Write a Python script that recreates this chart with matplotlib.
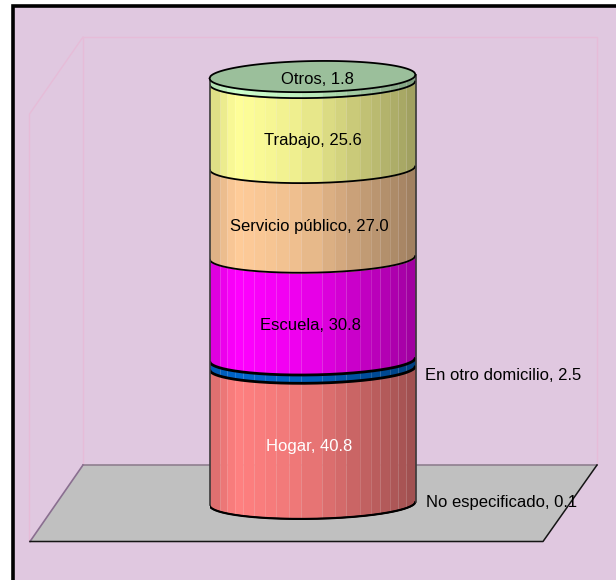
import matplotlib
matplotlib.use('Agg')
import matplotlib.pyplot as plt
import numpy as np
from matplotlib.patches import Polygon, Rectangle

# de abajo hacia arriba
labels = ['No especificado', 'Hogar', 'En otro domicilio', 'Escuela', 'Servicio público', 'Trabajo', 'Otros']
values = [0.1, 40.8, 2.5, 30.8, 27.0, 25.6, 1.8]
colors = ['#FFFFFF', '#FF8080', '#0066CC', '#FF00FF', '#FFCC99', '#FFFF99', '#CCFFCC']
text_colors = ['black', 'white', 'black', 'black', 'black', 'black', 'black']
# posicion de cada etiqueta en pixeles (centro o borde izquierdo)
label_px = [(426, 502), (309, 446), (425, 375), (310, 326), (309, 227), (313, 140), (317, 80)]
label_ha = ['left', 'center', 'left', 'center', 'center', 'center', 'center']

BG = '#E0C8E0'
WALL = '#E6BCD8'
FONT = ['Liberation Sans', 'DejaVu Sans']

# franjas del lateral del cilindro, en fraccion del ancho
strip_px = [60, 92, 112, 135, 160, 193, 225, 260, 298, 335, 397, 435, 470, 510, 543, 572, 600, 625, 650, 678]
strips = (np.array(strip_px) - 60) / (678 - 60) * 2 - 1

PX_PER_UNIT = 3.32
ELLIPSE_B = 15.5 / PX_PER_UNIT
TILT = 0.55
BASE_Y = 503.5
CYL_LEFT, CYL_RIGHT = 209.5, 415.5


def front_arc(x, c):
    return c - ELLIPSE_B * np.sqrt(np.clip(1 - x ** 2, 0, 1)) + TILT * x


def shade(hex_color, x):
    f = np.interp(x, [-1, -0.75, -0.1, 1], [0.84, 1.0, 0.93, 0.62])
    return tuple(np.array(matplotlib.colors.to_rgb(hex_color)) * f)


def draw_background(bg):
    # pared del fondo, pared lateral y piso
    bg.add_patch(Rectangle((13, 5.5), 620, 590, fc=BG, ec='black', lw=2.6))
    bg.plot([83, 83, 597, 597], [465, 37, 37, 465], color=WALL, lw=1)
    bg.plot([29.5, 29.5, 83], [541, 114, 37], color=WALL, lw=1)
    bg.add_patch(Polygon([(83, 465), (597, 465), (543, 541.5), (30, 541.5)], fc='#C0C0C0', ec='none'))
    bg.plot([83, 597], [465, 465], color='#8F7F8F', lw=1.2)
    bg.plot([83, 30], [465, 541.5], color='#8A6F90', lw=1.2)
    bg.plot([30, 543, 597], [541.5, 541.5, 465], color='#151515', lw=1.1)


def draw_cylinder(ax):
    tops = np.cumsum(values)
    bottoms = tops - np.array(values)
    for bottom, top, color in zip(bottoms, tops, colors):
        for x0, x1 in zip(strips[:-1], strips[1:]):
            xs = np.linspace(x0, x1, 12)
            ax.fill_between(xs, front_arc(xs, bottom), front_arc(xs, top), lw=0.3,
                            color=shade(color, (x0 + x1) / 2), zorder=2)
    # lineas claras entre franjas
    for x in strips[1:-1]:
        ax.plot([x, x], [front_arc(x, 0), front_arc(x, tops[-1])], color='white', alpha=0.14, lw=0.7, zorder=3)
    xs = np.linspace(-1, 1, 200)
    for i, bottom in enumerate(bottoms):
        lw = 2.0 if labels[i] in ('En otro domicilio', 'Escuela') else 1.3
        ax.plot(xs, front_arc(xs, bottom), color='black', lw=lw, zorder=4, solid_capstyle='butt')
    # bordes laterales
    for x in (-1, 1):
        ax.plot([x, x], [TILT * x, tops[-1] + TILT * x], color='#3A3A3A', lw=1.2, zorder=4, clip_on=False)
    # tapa superior
    root = ELLIPSE_B * np.sqrt(1 - xs ** 2)
    top_xs = np.r_[xs, xs[::-1]]
    top_ys = np.r_[tops[-1] - root + TILT * xs, (tops[-1] + root + TILT * xs)[::-1]]
    ax.fill(top_xs, top_ys, fc='#9BBF9B', ec='black', lw=1.3, zorder=5, clip_on=False)


def main():
    fig = plt.figure(figsize=(6.16, 5.8), dpi=100, facecolor='white')
    bg = fig.add_axes([0, 0, 1, 1])
    bg.set_xlim(0, 616)
    bg.set_ylim(580, 0)
    bg.axis('off')
    draw_background(bg)

    low_unit, top_unit = -10, 135
    bottom_px = BASE_Y - low_unit * PX_PER_UNIT
    ax = fig.add_axes([CYL_LEFT / 616, (580 - bottom_px) / 580, (CYL_RIGHT - CYL_LEFT) / 616,
                       (top_unit - low_unit) * PX_PER_UNIT / 580])
    ax.set_xlim(-1, 1)
    ax.set_ylim(low_unit, top_unit)
    ax.axis('off')
    draw_cylinder(ax)

    for name, val, pos, ha, tc in zip(labels, values, label_px, label_ha, text_colors):
        ax.text(pos[0], pos[1], f'{name}, {val:.1f}', transform=bg.transData, ha=ha, va='center',
                color=tc, fontsize=12, family=FONT, zorder=10, clip_on=False)

    fig.savefig('out.png', dpi=100)


if __name__ == '__main__':
    main()
